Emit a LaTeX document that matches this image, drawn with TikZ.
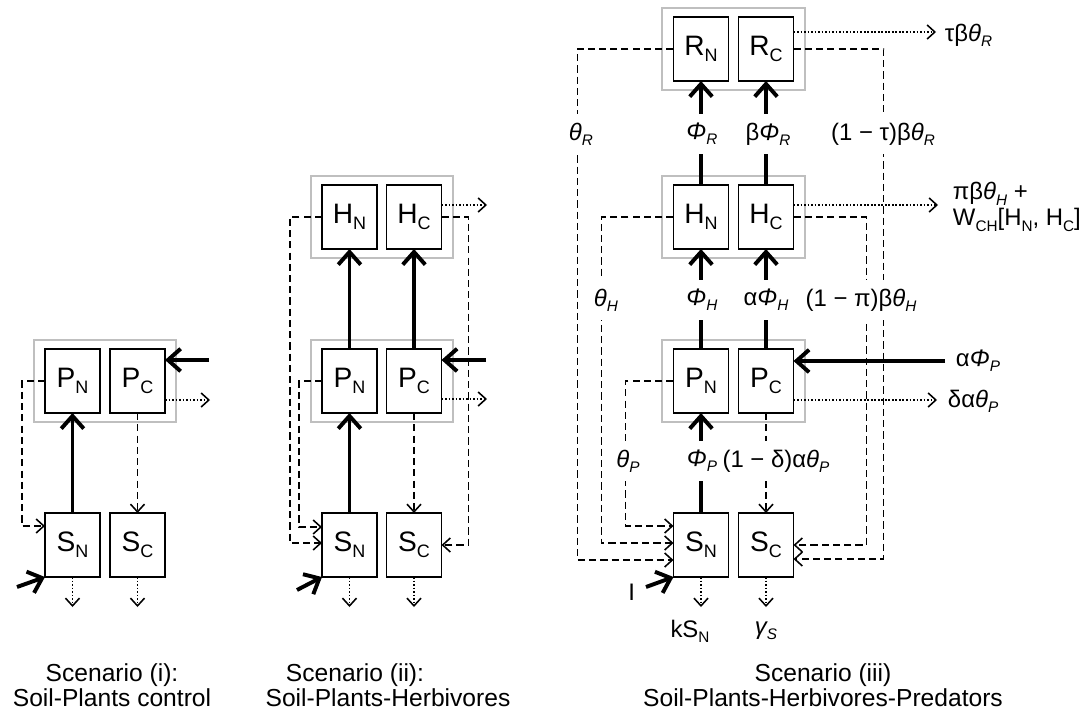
\documentclass[tikz,border=0pt]{standalone}
\usepackage{graphicx}
\usepackage{fontspec}
\setmainfont{Liberation Sans}
\usetikzlibrary{fit, arrows.meta}

\newcommand{\lo}[1]{\raisebox{-0.22em}{\scalebox{0.64}{#1}}}

\begin{document}
\begin{tikzpicture}[x=0.025cm, y=-0.025cm,
    pool/.style={draw, line width=1.2pt, minimum width=1.375cm, minimum height=1.6cm,
                 inner sep=0pt, outer sep=0pt, font=\fontsize{20}{24}\selectfont},
    group/.style={draw=black!25, line width=1.4pt, inner xsep=0.28cm, inner ysep=0.22cm},
    flux/.style={line width=2.8pt, -{Straight Barb[length=9pt,width=16pt]}},
    back/.style={line width=1.1pt, dash pattern=on 5pt off 3pt, -{Straight Barb[length=5.5pt,width=10pt]}},
    loss/.style={line width=1.1pt, dash pattern=on 1.2pt off 1.3pt, -{Straight Barb[length=5.5pt,width=10pt]}},
    rate/.style={fill=white, inner xsep=1.5pt, inner ysep=0pt, minimum height=28pt, font=\fontsize{17}{19}\selectfont},
    lab/.style={font=\fontsize{17}{18.5}\selectfont},
    caption/.style={anchor=base, inner sep=0pt, font=\fontsize{17.5}{21}\selectfont}]

    \useasboundingbox (0,0) rectangle (1088,711);

    % 1. Scenario (i): soil and plants
    \node[pool] (i-PN) at (72.5,381) {P\lo{N}};
    \node[pool] (i-PC) at (137.5,381) {P\lo{C}};
    \node[pool] (i-SN) at (72.5,545) {S\lo{N}};
    \node[pool] (i-SC) at (137.5,545) {S\lo{C}};
    \node[group, fit=(i-PN) (i-PC)] (i-P) {};

    \coordinate (i-in) at (209,360);
    \coordinate (i-out) at (210,400);
    \coordinate (i-I) at (17,587);

    \draw[flux] (i-SN.north) -- (i-PN.south);
    \draw[flux] (i-in) -- (i-in -| i-PC.east);
    \draw[flux] (i-I) -- (i-SN.south west);
    \draw[back] (i-PN.west) -- ++(-23,0) |- ([yshift=0.475cm]i-SN.west);
    \draw[back] (i-PC.south) -- (i-SC.north);
    \draw[loss] (i-out -| i-PC.east) -- (i-out);
    \draw[loss] (i-SN.south) -- ++(0,30);
    \draw[loss] (i-SC.south) -- ++(0,30);

    \node[caption] (i-cap1) at (112,681) {Scenario (i):};
    \node[caption] (i-cap2) at (112,706) {Soil-Plants control};

    % 2. Scenario (ii): soil, plants and herbivores
    \node[pool] (ii-HN) at (349.5,217) {H\lo{N}};
    \node[pool] (ii-HC) at (414,217) {H\lo{C}};
    \node[pool] (ii-PN) at (349.5,381) {P\lo{N}};
    \node[pool] (ii-PC) at (414,381) {P\lo{C}};
    \node[pool] (ii-SN) at (349.5,545) {S\lo{N}};
    \node[pool] (ii-SC) at (414,545) {S\lo{C}};
    \node[group, fit=(ii-HN) (ii-HC)] (ii-H) {};
    \node[group, fit=(ii-PN) (ii-PC)] (ii-P) {};

    \coordinate (ii-in) at (486,360);
    \coordinate (ii-Hout) at (487,205);
    \coordinate (ii-Pout) at (487,399);
    \coordinate (ii-I) at (297,590);

    \draw[flux] (ii-SN.north) -- (ii-PN.south);
    \draw[flux] (ii-PN.north) -- (ii-HN.south);
    \draw[flux] (ii-PC.north) -- (ii-HC.south);
    \draw[flux] (ii-in) -- (ii-in -| ii-PC.east);
    \draw[flux] (ii-I) -- (ii-SN.south west);
    \draw[back] (ii-PN.west) -- ++(-23,0) |- ([yshift=0.45cm]ii-SN.west);
    \draw[back] (ii-HN.west) -- ++(-32,0) |- ([yshift=0.05cm]ii-SN.west);
    \draw[back] (ii-HC.east) -- ++(27,0) |- (ii-SC.east);
    \draw[back] (ii-PC.south) -- (ii-SC.north);
    \draw[loss] (ii-Hout -| ii-HC.east) -- (ii-Hout);
    \draw[loss] (ii-Pout -| ii-PC.east) -- (ii-Pout);
    \draw[loss] (ii-SN.south) -- ++(0,30);
    \draw[loss] (ii-SC.south) -- ++(0,30);

    \node[caption] (ii-cap1) at (355,681) {Scenario (ii):};
    \node[caption] (ii-cap2) at (388,706) {Soil-Plants-Herbivores};

    % 3. Scenario (iii): soil, plants, herbivores and predators
    \node[pool] (iii-RN) at (701,49) {R\lo{N}};
    \node[pool] (iii-RC) at (766,49) {R\lo{C}};
    \node[pool] (iii-HN) at (701,217) {H\lo{N}};
    \node[pool] (iii-HC) at (766,217) {H\lo{C}};
    \node[pool] (iii-PN) at (701,381) {P\lo{N}};
    \node[pool] (iii-PC) at (766,381) {P\lo{C}};
    \node[pool] (iii-SN) at (701,545) {S\lo{N}};
    \node[pool] (iii-SC) at (766,545) {S\lo{C}};
    \node[group, fit=(iii-RN) (iii-RC)] (iii-R) {};
    \node[group, fit=(iii-HN) (iii-HC)] (iii-H) {};
    \node[group, fit=(iii-PN) (iii-PC)] (iii-P) {};

    \coordinate (iii-in) at (945,361);
    \coordinate (iii-Rout) at (936,32);
    \coordinate (iii-Hout) at (938,205);
    \coordinate (iii-Pout) at (937,400);
    \coordinate (iii-I) at (646,587);

    \draw[flux] (iii-SN.north) -- (iii-PN.south);
    \draw[flux] (iii-PN.north) -- (iii-HN.south);
    \draw[flux] (iii-PC.north) -- (iii-HC.south);
    \draw[flux] (iii-HN.north) -- (iii-RN.south);
    \draw[flux] (iii-HC.north) -- (iii-RC.south);
    \draw[flux] (iii-in) -- (iii-in -| iii-PC.east);
    \draw[flux] (iii-I) -- (iii-SN.south west);

    \draw[back] (iii-PN.west) -- ++(-48,0) |- ([yshift=0.475cm]iii-SN.west);
    \draw[back] (iii-HN.west) -- ++(-72,0) |- ([yshift=0.05cm]iii-SN.west);
    \draw[back] (iii-RN.west) -- ++(-96,0) |- ([yshift=-0.375cm]iii-SN.west);
    \draw[back] (iii-PC.south) -- (iii-SC.north);
    \draw[back] (iii-HC.east) -- ++(73,0) |- (iii-SC.east);
    \draw[back] (iii-RC.east) -- ++(90,0) |- ([yshift=-0.35cm]iii-SC.east);

    \draw[loss] (iii-Rout -| iii-RC.east) -- (iii-Rout);
    \draw[loss] (iii-Hout -| iii-HC.east) -- (iii-Hout);
    \draw[loss] (iii-Pout -| iii-PC.east) -- (iii-Pout);
    \draw[loss] (iii-SN.south) -- ++(0,30);
    \draw[loss] (iii-SC.south) -- ++(0,30);

    % rates on the flows
    \node[rate] (iii-thR) at (581,134) {\textit{θ\lo{R}}};
    \node[rate] (iii-phR) at (702,134) {\textit{Φ\lo{R}}};
    \node[rate] (iii-bphR) at (768,134) {β\textit{Φ\lo{R}}};
    \node[rate] (iii-tbthR) at (883,134) {(1 − τ)β\textit{θ\lo{R}}};
    \node[rate] (iii-thH) at (606,300) {\textit{θ\lo{H}}};
    \node[rate] (iii-phH) at (702,300) {\textit{Φ\lo{H}}};
    \node[rate] (iii-aphH) at (766,300) {α\textit{Φ\lo{H}}};
    \node[rate] (iii-pbthH) at (861,300) {(1 − π)β\textit{θ\lo{H}}};
    \node[rate] (iii-thP) at (628,461) {\textit{θ\lo{P}}};
    \node[rate] (iii-phP) at (702,461) {\textit{Φ\lo{P}}};
    \node[rate] (iii-dathP) at (776,461) {(1 − δ)α\textit{θ\lo{P}}};

    \node[lab, anchor=west] (iii-tbth) at (940,35) {τβ\textit{θ\lo{R}}};
    \node[lab, anchor=west, align=left] (iii-pbth) at (948,207) {πβ\textit{θ\lo{H}} +\\W\lo{CH}[H\lo{N}, H\lo{C}]};
    \node[lab, anchor=west] (iii-aphP) at (951,361) {α\textit{Φ\lo{P}}};
    \node[lab, anchor=west] (iii-dath) at (943,401) {δα\textit{θ\lo{P}}};
    \node[lab, anchor=east] (iii-Ilab) at (640,592) {I};
    \node[lab] (iii-kSN) at (690,631) {kS\lo{N}};
    \node[lab] (iii-gS) at (766,631) {\textit{γ\lo{S}}};

    \node[caption] (iii-cap1) at (823,681) {Scenario (iii)};
    \node[caption] (iii-cap2) at (823,706) {Soil-Plants-Herbivores-Predators};
\end{tikzpicture}
\end{document}
